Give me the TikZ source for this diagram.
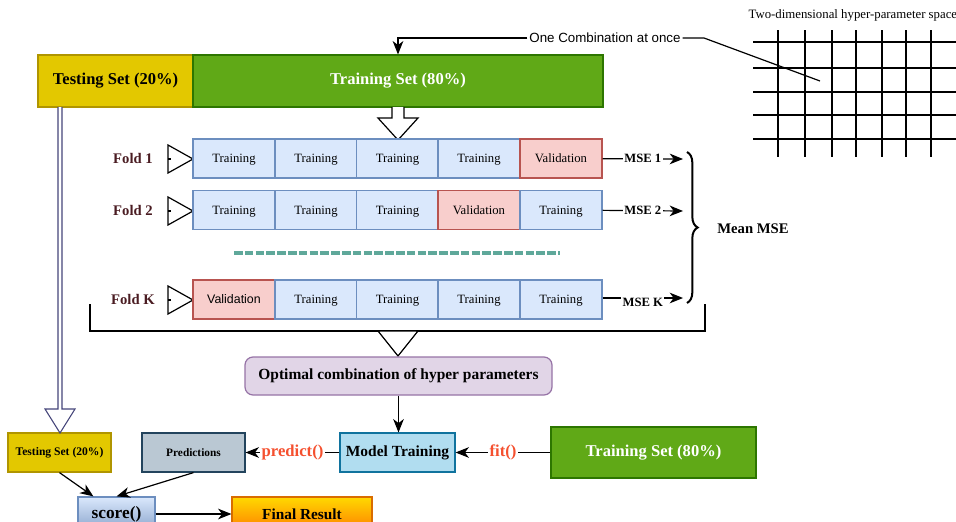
\documentclass[tikz,border=0pt]{standalone}
\usepackage{fontspec}
\setmainfont{Liberation Serif}
\newfontfamily\arialf{Liberation Sans}
\usetikzlibrary{arrows.meta, decorations.pathreplacing}

\definecolor{yelfill}{HTML}{E3C800}
\definecolor{yelline}{HTML}{B09500}
\definecolor{grnfill}{HTML}{60A917}
\definecolor{grnline}{HTML}{2D7600}
\definecolor{trfill}{HTML}{DAE8FC}
\definecolor{trline}{HTML}{6C8EBF}
\definecolor{valfill}{HTML}{F8CECC}
\definecolor{valline}{HTML}{B85450}
\definecolor{optfill}{HTML}{E1D5E7}
\definecolor{optline}{HTML}{9673A6}
\definecolor{modfill}{HTML}{B1DDF0}
\definecolor{modline}{HTML}{10739E}
\definecolor{predfill}{HTML}{BAC8D3}
\definecolor{predline}{HTML}{23445D}
\definecolor{dashcol}{HTML}{5FA89A}
\definecolor{foldcol}{HTML}{4A1C22}
\definecolor{fncol}{HTML}{F5502F}
\definecolor{navyline}{HTML}{45457A}

\begin{document}
\begin{tikzpicture}[>={Stealth[length=10pt, width=8pt, inset=3pt]}, x=0.75pt, y=-0.75pt, line width=0.9pt,
    box/.style={draw, inner sep=0pt, text depth=0pt, minimum width=61.5pt, minimum height=29.25pt,
        font=\fontsize{9.5}{11}\selectfont},
    trbox/.style={box, fill=trfill, draw=trline},
    valbox/.style={box, fill=valfill, draw=valline},
    testbox/.style={draw=yelline, fill=yelfill, inner sep=0pt, font=\bfseries\fontsize{12.4}{14}\selectfont},
    trainbox/.style={draw=grnline, fill=grnfill, inner sep=0pt, text=white, font=\bfseries\fontsize{12.4}{14}\selectfont},
    foldlbl/.style={text=foldcol, font=\bfseries\fontsize{11}{13}\selectfont},
    msetxt/.style={fill=white, inner sep=1pt, font=\bfseries\fontsize{9.5}{11}\selectfont},
    fntxt/.style={fill=white, inner sep=1pt, text=fncol, font=\bfseries\fontsize{12.5}{14}\selectfont}]

    % Cornice
    \useasboundingbox (0,0) rectangle (956,521);

    % Divisione del dataset
    \node[testbox, minimum width=116.25pt, minimum height=39pt] (test) at (115.5,81) {Testing Set (20\%)};
    \node[trainbox, minimum width=307.5pt, minimum height=39pt] (train) at (398,81) {Training Set (80\%)};

    % Spazio degli iperparametri
    \node[anchor=west, inner sep=0pt, font=\fontsize{9.6}{11}\selectfont] (space) at (748,15) {Two-dimensional hyper-parameter space};
    \draw (753,42) -- (956,42);
    \draw (753,68) -- (956,68);
    \draw (753,92) -- (956,92);
    \draw (753,115) -- (956,115);
    \draw (753,139) -- (956,139);
    \draw (778,30) -- (778,157);
    \draw (805,30) -- (805,157);
    \draw (832,30) -- (832,157);
    \draw (856,30) -- (856,157);
    \draw (882,30) -- (882,157);
    \draw (906,30) -- (906,157);
    \draw (931,30) -- (931,157);
    \coordinate (pick) at (820,81);

    % Una combinazione alla volta
    \node[fill=white, inner sep=1pt, font=\arialf\fontsize{10}{12}\selectfont] (comb) at (605,38) {One Combination at once};
    \draw[->] (comb.west) -| (train.north);
    \draw (comb.east) -- (704,38) -- (pick);

    % Freccia vuota verso i fold
    \draw[fill=white] (392,107) -- (392,118) -- (378,118) -- (398,140) -- (418,118) -- (404,118) -- (404,107);

    % Fold 1
    \node[foldlbl] (l1) at (133,158) {Fold 1};
    \draw[fill=white] (168,145) -- (193,159) -- (168,173) -- cycle;
    \draw (168,159) -- (171,159);
    \node[trbox] (f1a) at (234,158.5) {Training};
    \node[trbox] (f1b) at (316,158.5) {Training};
    \node[trbox] (f1c) at (397.5,158.5) {Training};
    \node[trbox] (f1d) at (479,158.5) {Training};
    \node[valbox] (f1e) at (561,158.5) {Validation};

    % Fold 2
    \node[foldlbl] (l2) at (133,210) {Fold 2};
    \draw[fill=white] (168,197) -- (193,211) -- (168,225) -- cycle;
    \draw (168,211) -- (171,211);
    \node[trbox] (f2a) at (234,210) {Training};
    \node[trbox] (f2b) at (316,210) {Training};
    \node[trbox] (f2c) at (397.5,210) {Training};
    \node[valbox] (f2d) at (479,210) {Validation};
    \node[trbox] (f2e) at (561,210) {Training};

    % Fold intermedi
    \draw[dashcol, line width=2.4pt, dash pattern=on 6.5pt off 1.6pt] (234,253) -- (560,253);

    % Fold K
    \node[foldlbl] (lk) at (133,299) {Fold K};
    \draw[fill=white] (168,286) -- (193,300) -- (168,314) -- cycle;
    \draw (168,300) -- (171,300);
    \node[valbox, font=\arialf\fontsize{9.3}{11}\selectfont] (fka) at (234,299.5) {Validation};
    \node[trbox] (fkb) at (316,299.5) {Training};
    \node[trbox] (fkc) at (397.5,299.5) {Training};
    \node[trbox] (fkd) at (479,299.5) {Training};
    \node[trbox] (fke) at (561,299.5) {Training};

    % Errori dei fold
    \coordinate (m1) at (683,159);
    \coordinate (m2) at (683,211);
    \coordinate (mk) at (683,298);
    \draw[->] (f1e) -- (m1) node[midway, msetxt] {MSE 1};
    \draw[->] (f2e) -- (m2) node[midway, msetxt] {MSE 2};
    \draw[->] (fke.east |- mk) -- (mk) node[midway, msetxt, yshift=-3pt] {MSE K};
    \draw[decorate, decoration={brace, amplitude=8pt}, line width=1.5pt] (687,152) -- (687,303);
    \node[font=\bfseries\fontsize{11}{13}\selectfont] (mean) at (753,229) {Mean MSE};

    % Parentesi sotto i fold
    \draw[line width=1.6pt] (90,304) -- (90,331) -- (705,331) -- (705,304);
    \draw[fill=white] (378,331) -- (418,331) -- (398,356) -- cycle;

    % Combinazione ottima e addestramento
    \node[draw=optline, fill=optfill, rounded corners=6pt, inner sep=0pt, minimum width=230.25pt, minimum height=28.5pt,
        font=\bfseries\fontsize{11.6}{13}\selectfont] (opt) at (398.5,376) {Optimal combination of hyper parameters};
    \node[draw=modline, fill=modfill, inner sep=0pt, minimum width=86.25pt, minimum height=29.25pt,
        font=\bfseries\fontsize{11.6}{13}\selectfont] (model) at (397.5,452.5) {Model Training};
    \node[trainbox, minimum width=153.75pt, minimum height=38.25pt] (trainB) at (653.5,452.5) {Training Set (80\%)};
    \node[draw=predline, fill=predfill, inner sep=0pt, minimum width=77.25pt, minimum height=29.25pt,
        font=\bfseries\fontsize{8.5}{10}\selectfont] (pred) at (193.5,452.5) {Predictions};
    \node[testbox, minimum width=77.25pt, minimum height=29.25pt, font=\bfseries\fontsize{8.7}{10}\selectfont] (testB) at (59.5,452.5) {Testing Set (20\%)};

    \draw[->] (opt.south) -- (opt.south |- model.north);
    \draw[->] (trainB) -- (model) node[midway, fntxt] {fit()};
    \draw[->] (model) -- (pred) node[midway, fntxt] {predict()};

    % Freccia doppia del testing set
    \draw[navyline, fill=white, line width=0.8pt] (58,107) -- (58,409) -- (45,409) -- (60,433) -- (75,409) -- (62,409) -- (62,107);

    % Valutazione finale
    \node[draw=trline, top color=trfill, bottom color=trline!80!white, inner sep=0pt, minimum width=57.75pt, minimum height=25.5pt,
        font=\bfseries\fontsize{13}{15}\selectfont] (score) at (116.5,514) {score()};
    \node[draw=orange!85!black, top color=yellow!70!orange, bottom color=orange, inner sep=0pt, minimum width=105pt, minimum height=25.5pt,
        font=\bfseries\fontsize{11.5}{13}\selectfont] (final) at (302,514) {Final Result};
    \draw[->] (testB.south) -- ([xshift=12pt]score.north west);
    \draw[->] (pred.south) -- (score.north);
    \draw[->] (score) -- (final);

\end{tikzpicture}
\end{document}
